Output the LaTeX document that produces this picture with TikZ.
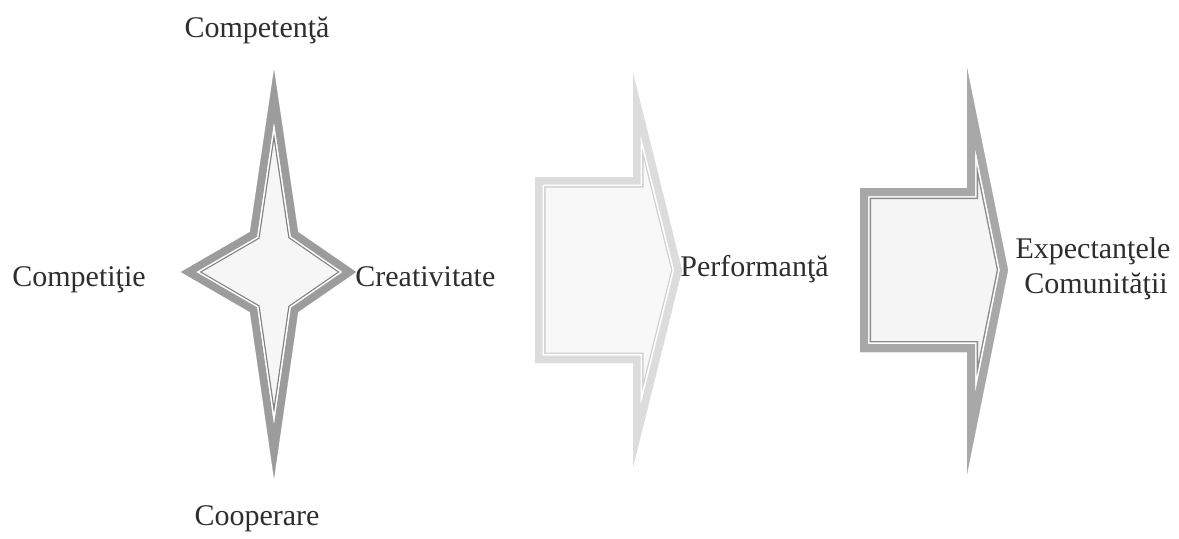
\documentclass[tikz,border=0pt]{standalone}
\usepackage{fontspec}
\setmainfont{Liberation Serif}
\begin{document}
\begin{tikzpicture}[x=0.5pt,y=-0.5pt,
  lbl/.style={inner sep=0pt, text=black!82, font=\fontsize{15pt}{18pt}\selectfont},
  starp/.style={insert path={(274,70) -- (298,232) -- (356,272) -- (298,312) -- (274,478) -- (250,312) -- (181,272) -- (250,232) -- cycle}},
  arrowonep/.style={insert path={(535,177) -- (633,177) -- (633,73) -- (682,270) -- (633,467) -- (633,363) -- (535,363) -- cycle}},
  arrowtwop/.style={insert path={(860,188) -- (967,188) -- (967,68) -- (1008,270) -- (967,474) -- (967,352) -- (860,352) -- cycle}},
  joinstyle/.style={line join=miter, miter limit=40}
]
\definecolor{starband}{HTML}{9C9C9C}
\definecolor{starline}{HTML}{7F7F7F}
\definecolor{starfill}{HTML}{F6F6F6}
\definecolor{aoneband}{HTML}{DCDCDC}
\definecolor{aoneline}{HTML}{D0D0D0}
\definecolor{aonefill}{HTML}{F8F8F8}
\definecolor{atwoband}{HTML}{A8A8A8}
\definecolor{atwoline}{HTML}{8C8C8C}
\definecolor{atwofill}{HTML}{F5F5F5}
\useasboundingbox (0,0) rectangle (1179,538);
\fill[white] (0,0) rectangle (1179,538);

% star
\fill[starfill, starp];
\begin{scope}
  \clip[starp];
  \draw[joinstyle, draw=starline, line width=10.4pt, starp];
  \draw[joinstyle, draw=white, line width=9.2pt, starp];
  \draw[joinstyle, draw=starband, line width=7.6pt, starp];
\end{scope}

% first arrow (light)
\fill[aonefill, arrowonep];
\begin{scope}
  \clip[arrowonep];
  \draw[joinstyle, draw=aoneline, line width=10.5pt, arrowonep];
  \draw[joinstyle, draw=white, line width=9.2pt, arrowonep];
  \draw[joinstyle, draw=aoneband, line width=7.5pt, arrowonep];
\end{scope}

% second arrow
\fill[atwofill, arrowtwop];
\begin{scope}
  \clip[arrowtwop];
  \draw[joinstyle, draw=atwoline, line width=11pt, arrowtwop];
  \draw[joinstyle, draw=white, line width=9.6pt, arrowtwop];
  \draw[joinstyle, draw=atwoband, line width=8pt, arrowtwop];
\end{scope}

% labels
\node[lbl, anchor=base] (competenta) at (257,37) {Competenţă};
\node[lbl, anchor=base] (competitie) at (79,286) {Competiţie};
\node[lbl, anchor=base west] (creativitate) at (355,286) {Creativitate};
\node[lbl, anchor=base] (cooperare) at (257,525) {Cooperare};
\node[lbl, anchor=base west] (performanta) at (680,276) {Performanţă};
\node[lbl, anchor=base] (expectantele) at (1093,258) {Expectanţele};
\node[lbl, anchor=base] (comunitatii) at (1096,293) {Comunităţii};
\end{tikzpicture}
\end{document}
